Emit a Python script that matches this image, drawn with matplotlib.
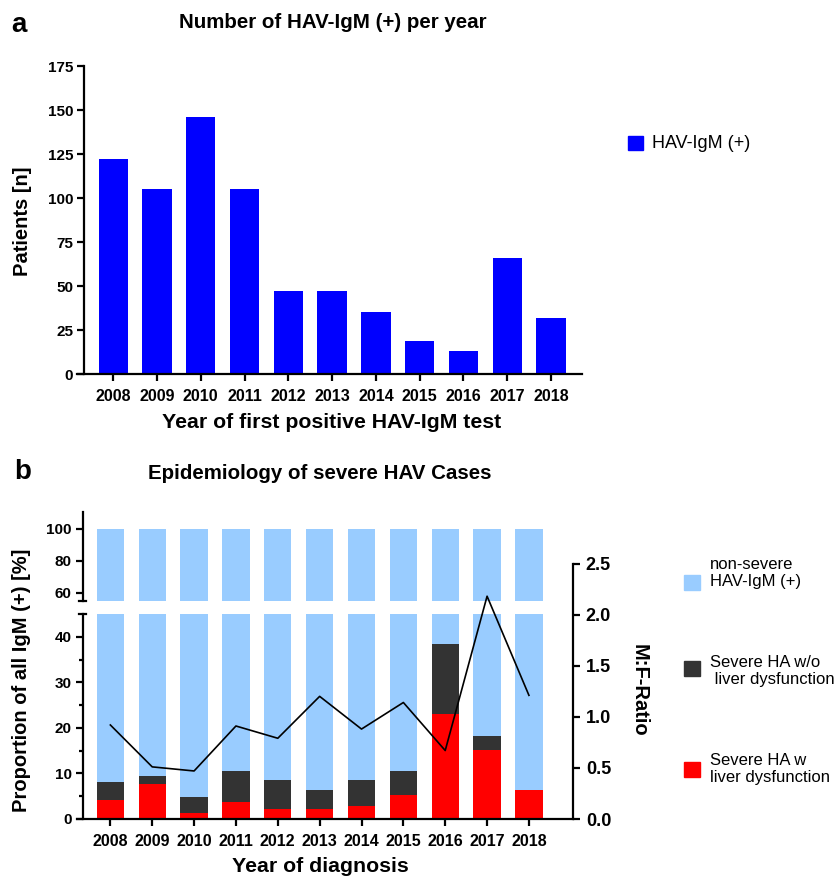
import matplotlib
matplotlib.use("Agg")
import numpy as np
import matplotlib.pyplot as plt
from matplotlib.patches import Rectangle

plt.rcParams['font.family'] = ['Liberation Sans', 'DejaVu Sans']
plt.rcParams['font.weight'] = 'bold'

# ---- data ----
years = ['2008', '2009', '2010', '2011', '2012', '2013', '2014', '2015', '2016', '2017', '2018']
hav_igm = [122, 105, 146, 105, 47, 47, 35, 19, 13, 66, 32]
# % of all IgM(+): severe HA with liver dysfunction (red) and all severe HA (red + dark)
severe_liver = [4.1, 7.6, 1.4, 3.8, 2.1, 2.1, 2.9, 5.3, 23.1, 15.2, 6.3]
severe_all = [8.2, 9.5, 4.8, 10.5, 8.5, 6.4, 8.6, 10.5, 38.5, 18.2, 6.3]
mf_ratio = [0.92, 0.51, 0.47, 0.91, 0.79, 1.20, 0.88, 1.14, 0.67, 2.18, 1.21]

W, H = 838, 877
fig = plt.figure(figsize=(W / 100, H / 100), dpi=100)


def fx(px):
    return px / W


def fy(py):
    return 1 - py / H


def box(left, top, right, bottom):
    return [fx(left), fy(bottom), fx(right) - fx(left), fy(top) - fy(bottom)]


LW = 1.6
TICK = dict(length=5, width=LW, labelsize=11, pad=3)
x = np.arange(len(years))

# ================= panel a =================
axa = fig.add_axes(box(77.3, 66, 581.7, 374))
axa.bar(x, hav_igm, width=0.67, color='#0000ff')
axa.set_xlim(-0.82, 10.70)
axa.set_ylim(0, 175)
axa.set_yticks(np.arange(0, 176, 25))
axa.set_xticks(x)
axa.set_xticklabels(years)
for s in ['top', 'right']:
    axa.spines[s].set_visible(False)
axa.spines['left'].set_position(('data', -0.66))
axa.spines['left'].set_linewidth(LW)
axa.spines['bottom'].set_linewidth(LW)
axa.tick_params(**TICK)
axa.tick_params(axis='x', pad=6, labelsize=11.5)

fig.text(fx(11), fy(25), 'a', fontsize=20, ha='left', va='center')
fig.text(fx(333), fy(22), 'Number of HAV-IgM (+) per year', fontsize=14.8, ha='center', va='center')
fig.text(fx(332), fy(423), 'Year of first positive HAV-IgM test', fontsize=15.3, ha='center', va='center')
fig.text(fx(22), fy(221), 'Patients [n]', fontsize=14.5, rotation=90, ha='center', va='center')
fig.add_artist(Rectangle((fx(628), fy(150)), fx(15), fy(136) - fy(150),
                         transform=fig.transFigure, color='#0000ff'))
fig.text(fx(652), fy(143), 'HAV-IgM (+)', fontsize=13, weight='normal', ha='left', va='center')

# ================= panel b =================
c_light, c_dark, c_red = '#99ccff', '#333333', '#ff0000'
severe_wo = [t - r for t, r in zip(severe_all, severe_liver)]
non_severe = [100 - t for t in severe_all]

low = fig.add_axes(box(77.3, 614, 573.3, 819))
up = fig.add_axes(box(77.3, 512, 573.3, 601))
for ax in (low, up):
    ax.bar(x, severe_liver, width=0.65, color=c_red)
    ax.bar(x, severe_wo, bottom=severe_liver, width=0.65, color=c_dark)
    ax.bar(x, non_severe, bottom=severe_all, width=0.65, color=c_light)
    ax.set_xlim(-0.79, 11.06)
    for s in ['top', 'right']:
        ax.spines[s].set_visible(False)
    ax.spines['left'].set_position(('data', -0.66))
    ax.spines['left'].set_linewidth(LW)
    ax.tick_params(**TICK)

low.set_ylim(0, 45)
low.set_yticks(np.arange(0, 41, 10))
low.set_yticks(np.arange(5, 40, 10), minor=True)
low.tick_params(which='minor', length=3, width=LW)
low.spines['bottom'].set_linewidth(LW)
low.set_xticks(x)
low.set_xticklabels(years)
low.tick_params(axis='x', pad=6, labelsize=11.5)
low.plot([-0.74, -0.58], [45, 45], color='k', lw=LW, clip_on=False)

up.set_ylim(55, 110.5)
up.set_yticks([60, 80, 100])
up.spines['bottom'].set_visible(False)
up.set_xticks([])
up.plot([-0.74, -0.58], [55, 55], color='k', lw=LW, clip_on=False)

rat = fig.add_axes(box(77.3, 563.5, 573.3, 819))
rat.patch.set_visible(False)
rat.plot(x, mf_ratio, color='k', lw=1.2)
rat.set_xlim(-0.79, 11.06)
rat.set_ylim(0, 2.5)
for s in ['top', 'left', 'bottom']:
    rat.spines[s].set_visible(False)
rat.spines['right'].set_linewidth(LW)
rat.set_xticks([])
rat.yaxis.tick_right()
rat.set_yticks(np.arange(0, 2.51, 0.5))
rat.set_yticklabels(['%.1f' % v for v in np.arange(0, 2.51, 0.5)])
rat.tick_params(axis='y', length=5, width=LW, labelsize=13, pad=4)

fig.text(fx(14), fy(472), 'b', fontsize=20, ha='left', va='center')
fig.text(fx(320), fy(474), 'Epidemiology of severe HAV Cases', fontsize=14.8, ha='center', va='center')
fig.text(fx(320), fy(866), 'Year of diagnosis', fontsize=15.3, ha='center', va='center')
fig.text(fx(22), fy(680), 'Proportion of all IgM (+) [%]', fontsize=14.5, rotation=90, ha='center', va='center')
fig.text(fx(639), fy(690), 'M:F-Ratio', fontsize=14.5, rotation=270, ha='center', va='center')

leg = [(c_light, 575, 'non-severe\nHAV-IgM (+)', 573),
       (c_dark, 661, 'Severe HA w/o\n liver dysfunction', 671),
       (c_red, 762, 'Severe HA w\nliver dysfunction', 769)]
for col, top, label, ty in leg:
    fig.add_artist(Rectangle((fx(684), fy(top + 15)), fx(16), fy(top) - fy(top + 15),
                             transform=fig.transFigure, color=col))
    fig.text(fx(710), fy(ty), label, fontsize=12, weight='normal', ha='left', va='center',
             linespacing=1.15)

fig.savefig('out.png', dpi=100)
